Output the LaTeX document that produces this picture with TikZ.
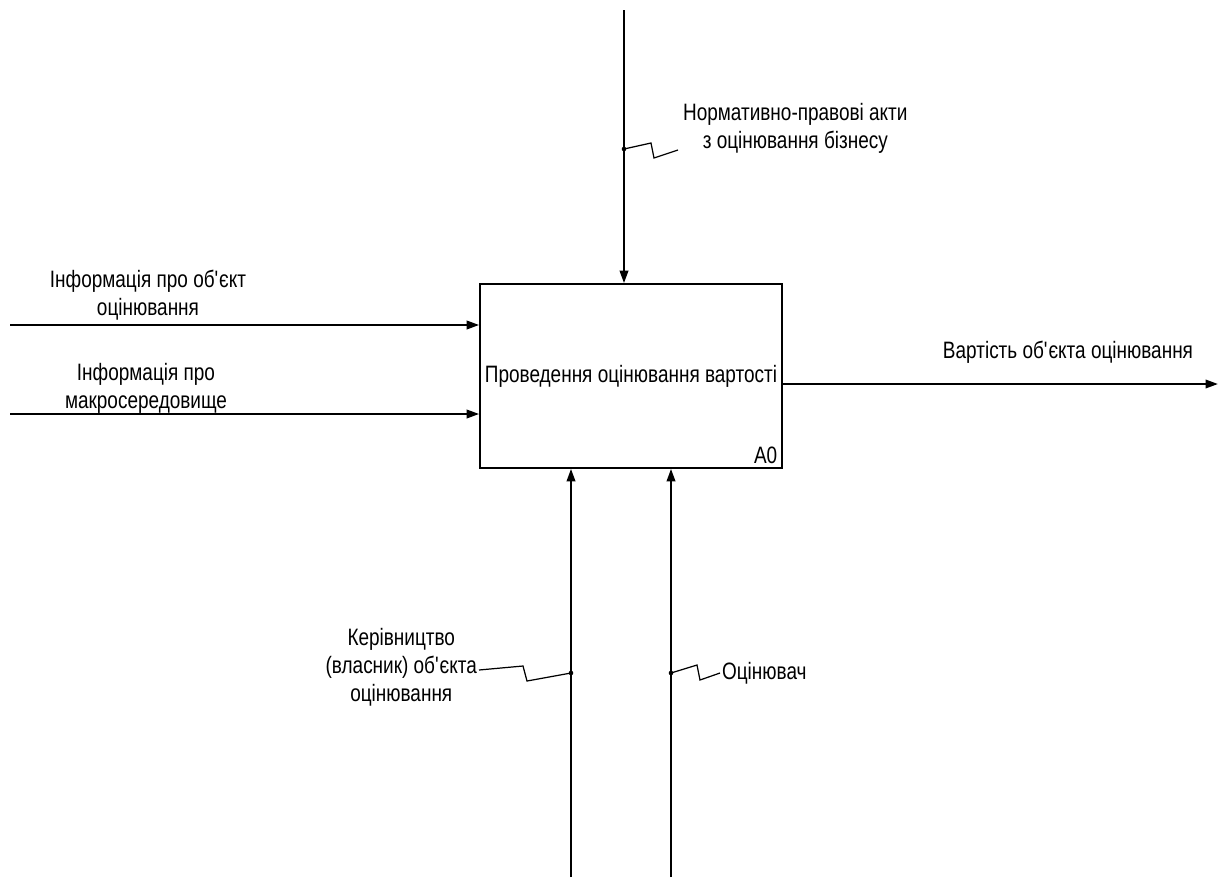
\documentclass[tikz,border=0pt]{standalone}
\usepackage{fontspec}
\setmainfont{Liberation Sans}[FakeStretch=0.8]
\usetikzlibrary{arrows.meta}

\begin{document}
\begin{tikzpicture}[x=0.02cm,y=-0.02cm,
  arr/.style={line width=1.2pt,-{Triangle[length=0.25cm,width=0.17cm]}},
  sq/.style={line width=0.7pt},
  lbl/.style={align=center,inner sep=1pt,font=\fontsize{13.5}{16}\selectfont}]
\useasboundingbox (0,0) rectangle (1218,877);

\node[draw,line width=1pt,minimum width=6.04cm,minimum height=3.68cm,lbl] (proc) at (631,376) {Проведення оцінювання вартості};
\node[lbl,anchor=south east,inner sep=3pt] (num) at (proc.south east) {A0};

\coordinate (ctl) at (624,10);
\coordinate (in1) at (10,325);
\coordinate (in2) at (10,414);
\coordinate (out) at (1218,384);
\coordinate (mech1) at (571,877);
\coordinate (mech2) at (671,877);

\draw[arr] (ctl) -- (ctl |- proc.north);
\draw[arr] (in1) -- (in1 -| proc.west);
\draw[arr] (in2) -- (in2 -| proc.west);
\draw[arr] (out -| proc.east) -- (out);
\draw[arr] (mech1) -- (mech1 |- proc.south);
\draw[arr] (mech2) -- (mech2 |- proc.south);

\node[lbl] (in1lbl) at (148,295) {Інформація про об\textquotesingle єкт\\оцінювання};
\node[lbl] (in2lbl) at (146,388) {Інформація про\\макросередовище};
\node[lbl] (outlbl) at (1068,352) {Вартість об\textquotesingle єкта оцінювання};
\node[lbl,anchor=west] (ctllbl) at (681,128) {Нормативно-правові акти\\з оцінювання бізнесу};
\node[lbl,anchor=east] (m1lbl) at (479,667) {Керівництво\\(власник) об\textquotesingle єкта\\оцінювання};
\node[lbl,anchor=west] (m2lbl) at (720,673) {Оцінювач};

\coordinate (dc) at (624,149);
\coordinate (dm1) at (571,673);
\coordinate (dm2) at (671,673);
\fill (dc) circle (1.3pt);
\fill (dm1) circle (1.3pt);
\fill (dm2) circle (1.3pt);
\draw[sq] (dc) -- ++(27,-6) -- ++(3,15) -- ++(24,-8);
\draw[sq] (dm1) -- ++(-44,8) -- ++(-4,-15) -- (m1lbl.east |- 0,670);
\draw[sq] (dm2) -- ++(26,-8) -- ++(3,15) -- (m2lbl.west);
\end{tikzpicture}
\end{document}
